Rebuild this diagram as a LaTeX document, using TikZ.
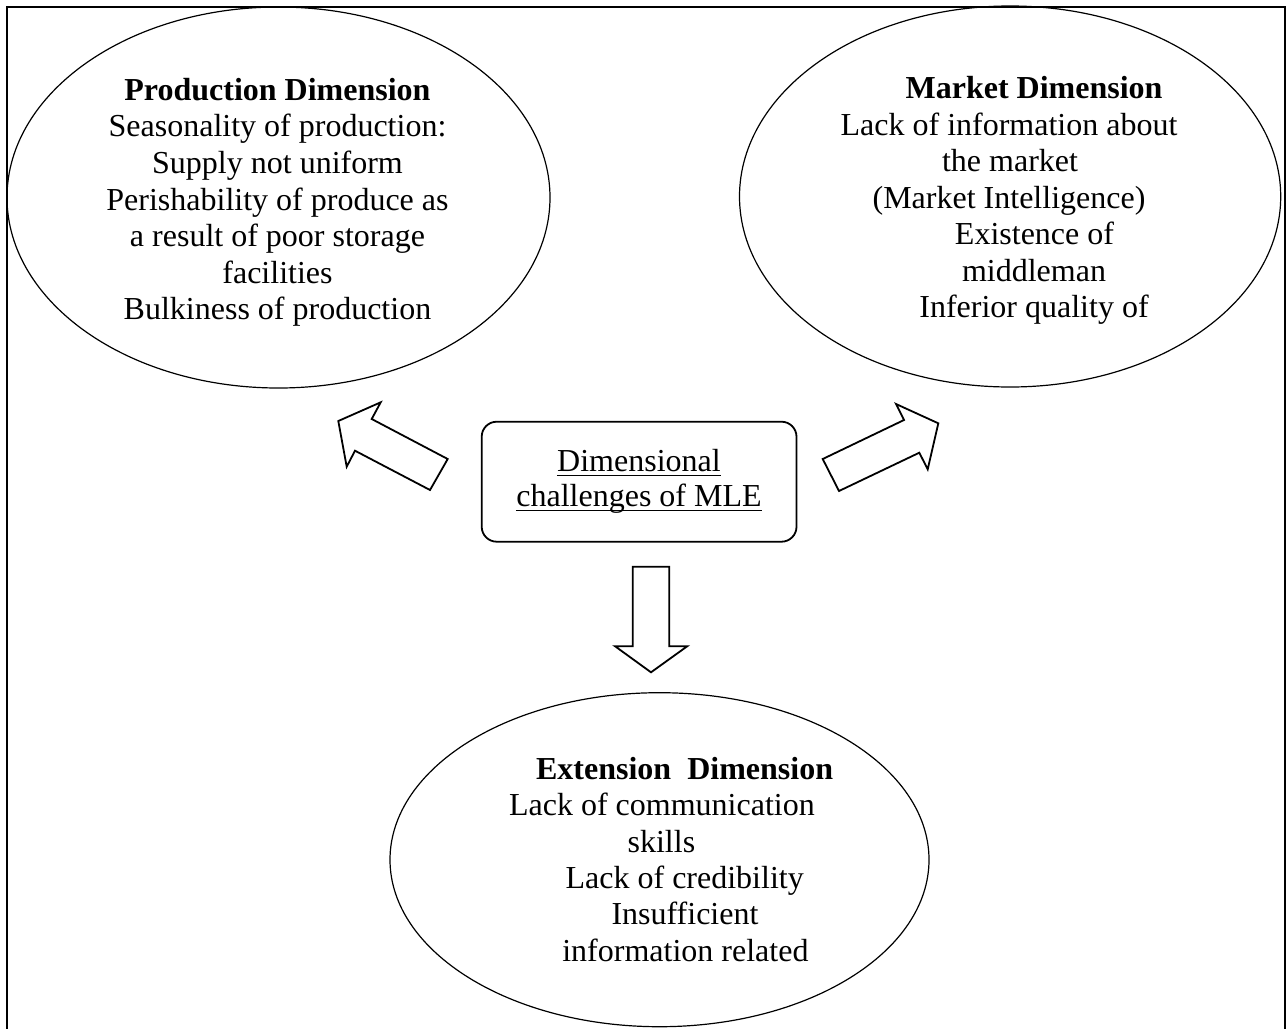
\documentclass[tikz,border=0pt]{standalone}
\usepackage{fontspec}
\setmainfont{Liberation Serif}
\usetikzlibrary{shapes.geometric}
\begin{document}
\begin{tikzpicture}[x=0.5pt,y=-0.5pt,
  ell/.style={draw, ellipse, inner sep=0pt, line width=0.6pt},
  txt/.style={anchor=base, inner sep=0pt, font=\fontsize{16pt}{18.3pt}\selectfont},
  blockarrow/.style={draw, line width=0.9pt, line join=miter},
  corebox/.style={draw, rounded corners=7.5pt, line width=0.9pt, inner sep=0pt},
  uline/.style={line width=0.6pt}
]
\clip (0,0) rectangle (1288,1028);
% outer frame (bottom edge lies below the picture)
\draw[line width=1pt] (7,1040) -- (7,7) -- (1285,7) -- (1285,1040);

% ellipses
\node[ell, minimum width=271.5pt, minimum height=190.5pt] (prod) at (278.5,197.5) {};
\node[ell, minimum width=270.6pt, minimum height=190.5pt] (mark) at (1010.1,196.5) {};
\node[ell, minimum width=269.5pt, minimum height=167pt] (ext) at (659.5,859.7) {};

% production dimension text
\node[txt] (p0) at (277.5,100.3) {\textbf{Production Dimension}};
\node[txt] (p1) at (277.5,136.9) {Seasonality of production:};
\node[txt] (p2) at (277.5,173.5) {Supply not uniform};
\node[txt] (p3) at (277.5,210.1) {Perishability of produce as};
\node[txt] (p4) at (277.5,246.7) {a result of poor storage};
\node[txt] (p5) at (277.5,283.3) {facilities};
\node[txt] (p6) at (277.5,319.9) {Bulkiness of production};

% market dimension text
\node[txt] (m0) at (1034,98.5) {\textbf{Market Dimension}};
\node[txt] (m1) at (1009,135) {Lack of information about};
\node[txt] (m2) at (1010,171.5) {the market};
\node[txt] (m3) at (1009,208) {(Market Intelligence)};
\node[txt] (m4) at (1034.5,244.5) {Existence of};
\node[txt] (m5) at (1034,281) {middleman};
\node[txt] (m6) at (1034,317.5) {Inferior quality of};

% extension dimension text
\node[txt] (e0) at (684.6,779) {\textbf{Extension\ \ Dimension}};
\node[txt] (e1) at (661.9,815.5) {Lack of communication};
\node[txt] (e2) at (661.4,852) {skills};
\node[txt] (e3) at (684.7,888.4) {Lack of credibility};
\node[txt] (e4) at (685,924.8) {Insufficient};
\node[txt] (e5) at (685.4,961.2) {information related};

% central box
\node[corebox, minimum width=157.4pt, minimum height=60pt] (core) at (639.1,481.7) {};
\node[txt] (c1) at (639,471.7) {Dimensional};
\node[txt] (c2) at (639,506.7) {challenges of MLE};
\draw[uline] ([yshift=-1.7pt]c1.base west) -- ([yshift=-1.7pt]c1.base east);
\draw[uline] ([yshift=-1.7pt]c2.base west) -- ([yshift=-1.7pt]c2.base east);

% block arrows
\draw[blockarrow] (338.3,421) -- (380.7,402.3) -- (371.7,419) -- (447.7,459)
  -- (430,490) -- (355,450.7) -- (346.7,466.7) -- cycle;
\draw[blockarrow] (938.3,423.3) -- (896,404) -- (904,420) -- (822.7,459)
  -- (839,491) -- (919.3,452.7) -- (927.7,469.3) -- cycle;
\draw[blockarrow] (632.7,566.7) -- (669.3,566.7) -- (669.3,646.2) -- (687.3,646.2)
  -- (651,672.3) -- (615,646.2) -- (632.7,646.2) -- cycle;
\end{tikzpicture}
\end{document}
